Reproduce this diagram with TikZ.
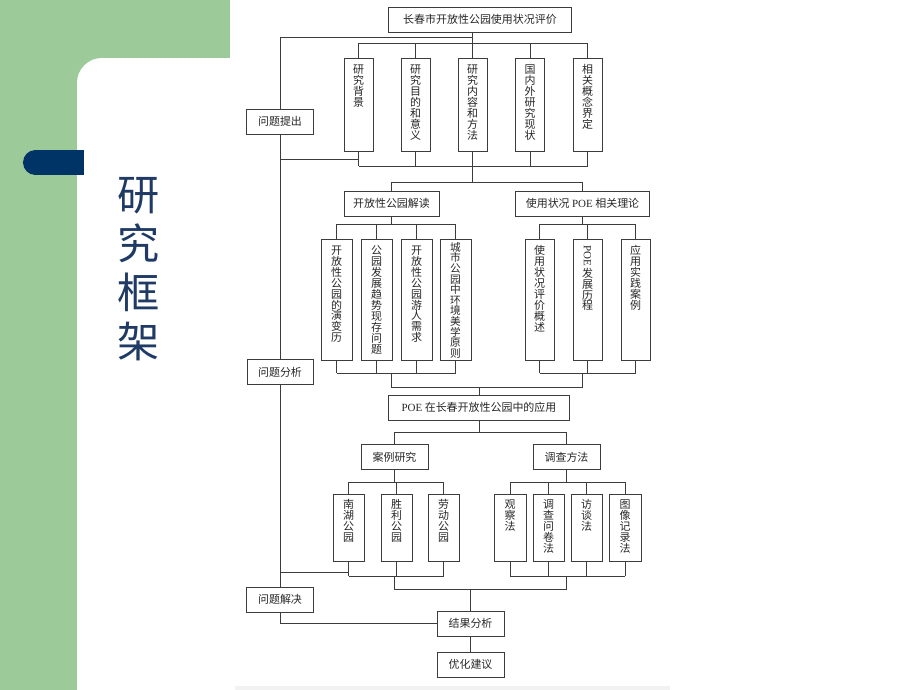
\documentclass[tikz,border=0pt]{standalone}
\usepackage{fontspec}
\usepackage{graphicx}
\usepackage{xcolor}
\usepackage{tikz}
\setmainfont{Liberation Serif}
\newfontfamily\cjk{Noto Sans CJK SC}
\XeTeXlinebreaklocale "zh"
\XeTeXlinebreakskip=0pt plus 1pt
\definecolor{bggreen}{RGB}{156,203,153}
\definecolor{pillblue}{RGB}{0,51,102}
\definecolor{titleblue}{RGB}{31,58,100}
\definecolor{linegray}{RGB}{60,60,60}
\newcommand{\boxfont}{\cjk\fontsize{7.8}{7.8}\selectfont}

\begin{document}
\begin{tikzpicture}[
	x=0.025cm,
	y=-0.025cm,
	line/.style={draw=linegray,line width=0.7pt},
	hbox/.style={rectangle,draw=linegray,line width=0.7pt,minimum height=0.625cm,inner sep=0pt,font=\boxfont,text=black!85},
	vbox/.style={rectangle,draw=linegray,line width=0.7pt,inner sep=0pt},
	vtext/.style={anchor=north,yshift=-4.2pt,inner sep=0pt,text width=8pt,align=center,font=\boxfont,text=black!85}
]
	\useasboundingbox (0,0) rectangle (920,690);
	% background
	\fill[bggreen] (0,0) rectangle (230,690);
	\fill[white] (102,58) rectangle (240,690);
	\fill[white] (77,83) rectangle (240,690);
	\fill[white] (102,83) circle[radius=0.625cm];
	\fill[pillblue] (35.5,162.5) circle[radius=0.3125cm];
	\fill[pillblue] (35.5,150) rectangle (84,175);
	\fill[black!5] (235,686) rectangle (670,690);
	\node[font=\cjk\fontsize{30}{35}\selectfont,text=titleblue,text width=31pt,align=center,inner sep=0pt] (title) at (139,269) {研究框架};

	% boxes
	\node[hbox,minimum width=4.55cm] (top) at (480,19.5) {长春市开放性公园使用状况评价};
	\node[hbox,minimum width=1.675cm] (ask) at (280,121.5) {问题提出};
	\node[vbox,minimum width=0.725cm,minimum height=2.3cm,label={[vtext]north:研究背景}] (bg) at (358.5,105) {};
	\node[vbox,minimum width=0.725cm,minimum height=2.3cm,label={[vtext]north:研究目的和意义}] (aim) at (415.5,105) {};
	\node[vbox,minimum width=0.725cm,minimum height=2.3cm,label={[vtext]north:研究内容和方法}] (cont) at (472.5,105) {};
	\node[vbox,minimum width=0.725cm,minimum height=2.3cm,label={[vtext]north:国内外研究现状}] (lit) at (530,105) {};
	\node[vbox,minimum width=0.725cm,minimum height=2.3cm,label={[vtext]north:相关概念界定}] (term) at (587.5,105) {};

	\node[hbox,minimum width=2.375cm] (park) at (391.5,203.5) {开放性公园解读};
	\node[hbox,minimum width=3.325cm] (theo) at (582.5,203.5) {使用状况 {\rmfamily POE} 相关理论};
	\node[vbox,minimum width=0.775cm,minimum height=3cm,label={[vtext]north:开放性公园的演变历}] (evo) at (336.5,300) {};
	\node[vbox,minimum width=0.775cm,minimum height=3cm,label={[vtext]north:公园发展趋势现存问题}] (trend) at (376.5,300) {};
	\node[vbox,minimum width=0.775cm,minimum height=3cm,label={[vtext]north:开放性公园游人需求}] (need) at (416.5,300) {};
	\node[vbox,minimum width=0.775cm,minimum height=3cm,label={[vtext,yshift=2.4pt,font=\cjk\fontsize{7.6}{7.55}\selectfont]north:城市公园中环境美学原则}] (aes) at (455.5,300) {};
	\node[vbox,minimum width=0.725cm,minimum height=3cm,label={[vtext]north:使用状况评价概述}] (poea) at (539.5,300) {};
	\node[vbox,minimum width=0.725cm,minimum height=3cm,label={[vtext]north:{\rmfamily\rotatebox{-90}{POE}} 发展历程}] (poeb) at (587.5,300) {};
	\node[vbox,minimum width=0.725cm,minimum height=3cm,label={[vtext]north:应用实践案例}] (poec) at (635.5,300) {};
	\node[hbox,minimum width=1.65cm] (anal) at (280,372) {问题分析};

	\node[hbox,minimum width=4.5cm] (app) at (479,407.5) {{\rmfamily POE} 在长春开放性公园中的应用};
	\node[hbox,minimum width=1.675cm] (case) at (394.5,457) {案例研究};
	\node[hbox,minimum width=1.675cm] (meth) at (566.5,457) {调查方法};
	\node[vbox,minimum width=0.775cm,minimum height=1.675cm,label={[vtext]north:南湖公园}] (nanhu) at (348.5,527.5) {};
	\node[vbox,minimum width=0.775cm,minimum height=1.675cm,label={[vtext]north:胜利公园}] (shengli) at (396.5,527.5) {};
	\node[vbox,minimum width=0.775cm,minimum height=1.675cm,label={[vtext]north:劳动公园}] (laodong) at (443.5,527.5) {};
	\node[vbox,minimum width=0.8cm,minimum height=1.675cm,label={[vtext]north:观察法}] (obs) at (510,527.5) {};
	\node[vbox,minimum width=0.775cm,minimum height=1.675cm,label={[vtext]north:调查问卷法}] (ques) at (548.5,527.5) {};
	\node[vbox,minimum width=0.775cm,minimum height=1.675cm,label={[vtext]north:访谈法}] (intv) at (586.5,527.5) {};
	\node[vbox,minimum width=0.8cm,minimum height=1.675cm,label={[vtext]north:图像记录法}] (img) at (625,527.5) {};

	\node[hbox,minimum width=1.675cm] (solve) at (280,599.5) {问题解决};
	\node[hbox,minimum width=1.675cm] (res) at (470.5,623.5) {结果分析};
	\node[hbox,minimum width=1.675cm] (adv) at (470.5,664.5) {优化建议};

	% first level
	\draw[line] (top.south -| cont.north) -- (cont.north);
	\draw[line] (cont.north |- 0,37) -| (ask.north);
	\draw[line] (bg.north |- 0,43) -- (term.north |- 0,43);
	\draw[line] (bg.south |- 0,166) -- (term.south |- 0,166);
	\foreach \n in {bg,aim,lit,term}
	{
		\draw[line] (\n.north) -- (\n.north |- 0,43);
		\draw[line] (\n.south) -- (\n.south |- 0,166);
	}
	\draw[line] (ask.south |- 0,159) -- (bg.south |- 0,159);
	\draw[line] (ask.south) -- (anal.north);

	% second level
	\draw[line] (cont.south) -- (cont.south |- 0,182);
	\draw[line] (park.north) |- (theo.north |- 0,182) -- (theo.north);
	\draw[line] (park.south) -- (park.south |- 0,224);
	\draw[line] (theo.south) -- (theo.south |- 0,224);
	\draw[line] (evo.north |- 0,224) -- (aes.north |- 0,224);
	\draw[line] (poea.north |- 0,224) -- (poec.north |- 0,224);
	\draw[line] (evo.south |- 0,373) -- (aes.south |- 0,373);
	\draw[line] (poea.south |- 0,373) -- (poec.south |- 0,373);
	\foreach \n in {evo,trend,need,aes,poea,poeb,poec}
	{
		\draw[line] (\n.north) -- (\n.north |- 0,224);
		\draw[line] (\n.south) -- (\n.south |- 0,373);
	}
	\draw[line] (park.south |- 0,373) |- (theo.south |- 0,387) -- (theo.south |- 0,373);
	\draw[line] (app.north |- 0,387) -- (app.north);
	\draw[line] (anal.south) -- (solve.north);

	% third level
	\draw[line] (app.south) -- (app.south |- 0,432);
	\draw[line] (case.north) |- (meth.north |- 0,432) -- (meth.north);
	\draw[line] (case.south) -- (case.south |- 0,482);
	\draw[line] (meth.south) -- (meth.south |- 0,482);
	\draw[line] (nanhu.north |- 0,482) -- (laodong.north |- 0,482);
	\draw[line] (obs.north |- 0,482) -- (img.north |- 0,482);
	\draw[line] (nanhu.south |- 0,576) -- (laodong.south |- 0,576);
	\draw[line] (obs.south |- 0,576) -- (img.south |- 0,576);
	\foreach \n in {nanhu,shengli,laodong,obs,ques,intv,img}
	{
		\draw[line] (\n.north) -- (\n.north |- 0,482);
		\draw[line] (\n.south) -- (\n.south |- 0,576);
	}
	\draw[line] (anal.south |- 0,572) -- (nanhu.south |- 0,572);
	\draw[line] (case.south |- 0,576) |- (meth.south |- 0,589) -- (meth.south |- 0,576);
	\draw[line] (res.north |- 0,589) -- (res.north);
	\draw[line] (solve.south) |- (res.west);
	\draw[line] (res.south) -- (adv.north);
\end{tikzpicture}
\end{document}
